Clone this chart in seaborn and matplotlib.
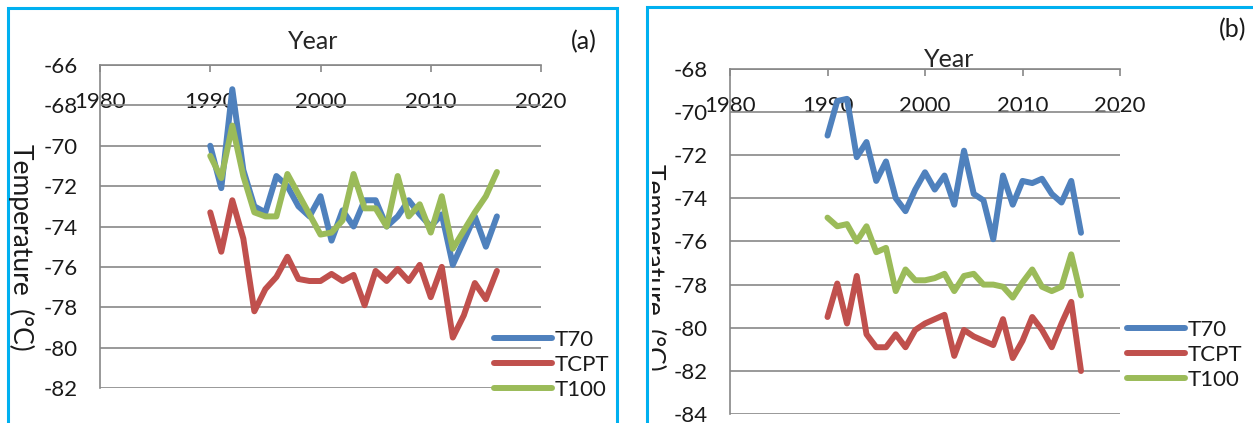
import matplotlib
matplotlib.use("Agg")
import matplotlib.pyplot as plt
from matplotlib.patches import Rectangle
from matplotlib.transforms import Bbox
import seaborn as sns
import pandas as pd

# Annual mean temperatures (°C), 1990-2016
years = list(range(1990, 2017))

a_t70 = [-70.0, -72.1, -67.2, -71.2, -73.0, -73.3, -71.5, -72.0, -73.0, -73.5,
         -72.5, -74.7, -73.2, -74.0, -72.7, -72.7, -74.0, -73.5, -72.7, -73.4,
         -74.0, -73.4, -75.9, -74.7, -73.5, -75.0, -73.5]
a_tcpt = [-73.3, -75.25, -72.7, -74.6, -78.2, -77.1, -76.5, -75.5, -76.6, -76.7,
          -76.7, -76.35, -76.7, -76.4, -77.9, -76.2, -76.7, -76.1, -76.7, -75.9,
          -77.5, -76.0, -79.5, -78.4, -76.8, -77.6, -76.2]
a_t100 = [-70.5, -71.6, -69.0, -71.5, -73.3, -73.5, -73.5, -71.4, -72.4, -73.4,
          -74.4, -74.3, -73.7, -71.4, -73.1, -73.1, -74.0, -71.5, -73.5, -72.9,
          -74.3, -72.5, -75.1, -74.2, -73.3, -72.5, -71.3]

b_t70 = [-71.1, -69.5, -69.4, -72.1, -71.4, -73.2, -72.3, -74.0, -74.6, -73.6,
         -72.8, -73.6, -72.95, -74.3, -71.8, -73.8, -74.1, -75.9, -72.95, -74.3,
         -73.2, -73.3, -73.1, -73.8, -74.2, -73.2, -75.6]
b_tcpt = [-79.5, -77.95, -79.8, -77.6, -80.3, -80.9, -80.9, -80.3, -80.9, -80.1,
          -79.8, -79.6, -79.4, -81.3, -80.1, -80.4, -80.6, -80.8, -79.6, -81.4,
          -80.6, -79.5, -80.1, -80.9, -79.8, -78.8, -82.0]
b_t100 = [-74.9, -75.3, -75.2, -76.0, -75.3, -76.5, -76.3, -78.3, -77.3, -77.8,
          -77.8, -77.7, -77.5, -78.3, -77.6, -77.5, -78.0, -78.0, -78.1, -78.6,
          -77.9, -77.3, -78.1, -78.3, -78.1, -76.6, -78.5]

series_names = ["T70", "TCPT", "T100"]
series_colors = ["#4F81BD", "#C0504D", "#9BBB59"]
x_ticks = [1980, 1990, 2000, 2010, 2020]

sns.set_style("white")
plt.rcParams["font.family"] = ["Lato", "DejaVu Sans"]
plt.rcParams["text.color"] = "#1a1a1a"

W, H = 1253, 423
fig = plt.figure(figsize=(W / 100, H / 100), dpi=100)

GRID = "#878787"
FS = 16
LW = 4.3


def px(x, y):
    return x / W, 1 - y / H


def draw_panel(rect, values, ylim, yticks, xlabel_xy, leg_xy):
    ax = fig.add_axes(rect)
    df = pd.DataFrame({
        "Year": years * 3,
        "Temperature": sum(values, []),
        "Series": sum([[n] * len(years) for n in series_names], []),
    })
    sns.lineplot(data=df, x="Year", y="Temperature", hue="Series",
                 hue_order=series_names, palette=series_colors,
                 linewidth=LW, ax=ax, legend=True,
                 solid_capstyle="round", solid_joinstyle="round")
    ax.set_xlim(1980, 2020)
    ax.set_ylim(*ylim)
    ax.set_xticks(x_ticks)
    ax.set_yticks(yticks)
    ax.set_yticklabels([f"{v}" for v in yticks])
    ax.yaxis.grid(True, color=GRID, linewidth=1.2)
    ax.xaxis.grid(False)
    for s in ["right", "bottom"]:
        ax.spines[s].set_visible(False)
    for s in ["left", "top"]:
        ax.spines[s].set_color(GRID)
        ax.spines[s].set_linewidth(1.2)
    ax.xaxis.tick_top()
    ax.tick_params(axis="x", which="both", direction="in", length=5,
                   width=1.2, color=GRID, labelsize=FS, pad=-34,
                   labelcolor="#1a1a1a",
                   top=True, bottom=False, labeltop=True, labelbottom=False)
    ax.tick_params(axis="y", direction="out", length=5, width=1.2,
                   color=GRID, labelsize=FS, pad=11, labelcolor="#1a1a1a")
    ax.set_ylabel("")
    ax.xaxis.set_label_position("top")
    ax.set_xlabel("Year", fontsize=18)
    ax.xaxis.set_label_coords(*xlabel_xy)
    ax.xaxis.label.set_va("center")
    leg = ax.legend(loc="upper left", bbox_to_anchor=px(*leg_xy),
                    bbox_transform=fig.transFigure, frameon=False,
                    fontsize=FS, handlelength=2.6, handletextpad=0.15,
                    labelspacing=0.22, borderpad=0, borderaxespad=0)
    for h in leg.get_lines():
        h.set_linewidth(LW)
        h.set_solid_capstyle("round")
    return ax


# panel (a)
ax_a = draw_panel([100 / W, 1 - 388 / H, 441 / W, 323 / H],
                  [a_t70, a_tcpt, a_t100], (-82, -66),
                  list(range(-82, -65, 2)), (0.484, 1.072), (494, 330))
# panel (b)
ax_b = draw_panel([730 / W, 1 - 414.2 / H, 390 / W, 345.6 / H],
                  [b_t70, b_tcpt, b_t100], (-84, -68),
                  list(range(-84, -67, 2)), (0.5615, 1.025), (1127, 320))

# y-axis titles
fig.text(*px(21, 247), "Temperature  (°C)", rotation=270, fontsize=19,
         ha="center", va="center")
tb = fig.text(*px(653, 267), "Temperature  (°C)", rotation=270, fontsize=19,
              ha="center", va="center", clip_on=True)
tb.set_clip_box(Bbox.from_extents(652, 0, 700, H))

# panel tags
fig.text(*px(584, 42), "(a)", fontsize=18, ha="center", va="center")
fig.text(*px(1233, 30), "(b)", fontsize=18, ha="center", va="center")

# panel frames
BORDER = "#00B0F0"
fig.add_artist(Rectangle(px(8, H + 20), (617 - 8) / W, (H + 12) / H,
                         transform=fig.transFigure, fill=False,
                         edgecolor=BORDER, linewidth=2.2))
fig.add_artist(Rectangle(px(647, H + 20), 0.6, (H + 13) / H,
                         transform=fig.transFigure, fill=False,
                         edgecolor=BORDER, linewidth=2.2))

fig.savefig("out.png", dpi=100)
